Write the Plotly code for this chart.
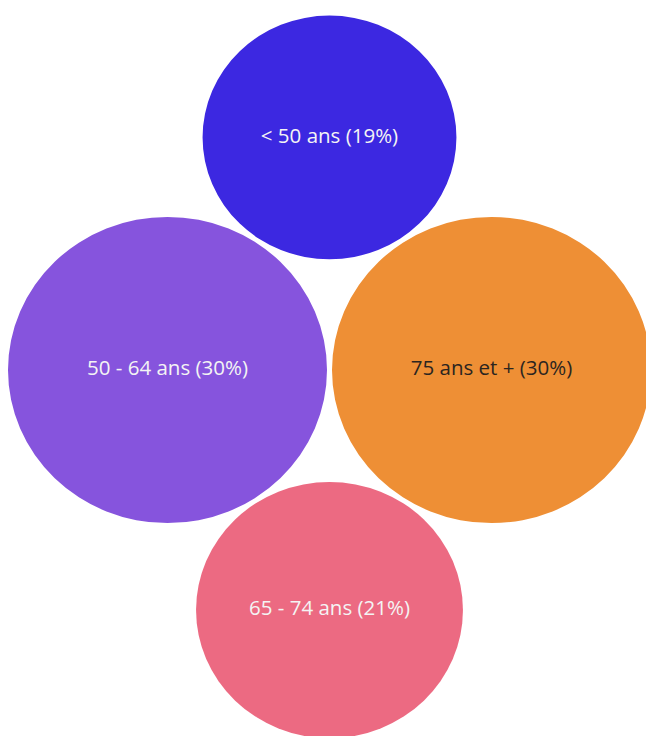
import math
import plotly.graph_objects as go

# ---- data ----
labels = ["< 50 ans", "50 - 64 ans", "75 ans et +", "65 - 74 ans"]
values = [19, 30, 30, 21]
colors = ["#3C28E1", "#8654DD", "#EE8F35", "#EC6A82"]
text_colors = ["#F4F4F4", "#F4F4F4", "#2B2520", "#F4F4F4"]

# ---- layout of bubbles (area proportional to value) ----
k = 159.5 / math.sqrt(30)
gap = 5
r = [k * math.sqrt(v) for v in values]
rT, rL, rR, rB = r
xL = -(rL + gap / 2)
xR = rR + gap / 2
yT = math.sqrt((rL + rT + gap) ** 2 - xL ** 2)
yB = -math.sqrt((rL + rB + gap) ** 2 - xL ** 2)
cx = [0, xL, xR, 0]
cy = [yT, 0, 0, yB]

fig = go.Figure()
shapes = []
for i in range(len(values)):
    shapes.append(dict(
        type="circle", xref="x", yref="y",
        x0=cx[i] - r[i], x1=cx[i] + r[i],
        y0=cy[i] - r[i], y1=cy[i] + r[i],
        fillcolor=colors[i], line=dict(width=0), layer="below",
    ))

fig.add_trace(go.Scatter(
    x=cx, y=cy, mode="text",
    text=[f"{l} ({v}%)" for l, v in zip(labels, values)],
    textfont=dict(family="Open Sans, sans-serif", size=20.5, color=text_colors),
    hoverinfo="skip", showlegend=False,
))

W, H = 646, 736
ysc = 0.96
x0px, y0px = 329.5, 370
fig.update_layout(
    width=W, height=H,
    margin=dict(l=0, r=0, t=0, b=0),
    paper_bgcolor="white", plot_bgcolor="white",
    shapes=shapes,
    xaxis=dict(range=[-x0px, W - x0px], visible=False, fixedrange=True),
    yaxis=dict(range=[-(H - y0px) / ysc, y0px / ysc], visible=False, fixedrange=True),
)

fig.write_html(
    "out.html",
    config={"displayModeBar": False},
    post_script="document.body.style.margin='0';document.body.style.overflow='hidden';"
                "document.documentElement.style.overflow='hidden';",
)
